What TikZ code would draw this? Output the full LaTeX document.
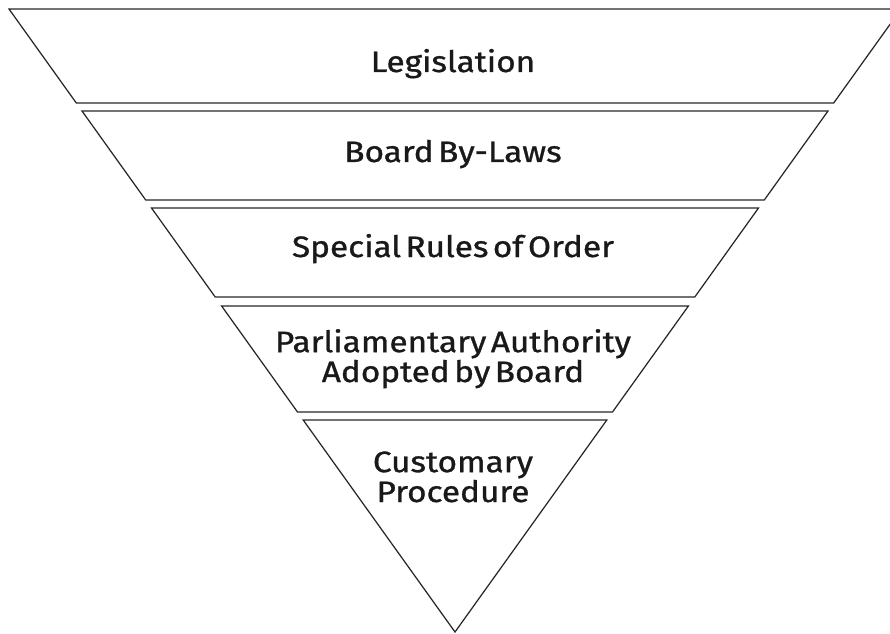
\documentclass[tikz,border=0pt]{standalone}
\usepackage{fontspec}
\setmainfont{Fira Sans}[FakeStretch=1.13, FakeBold=1, WordSpace=0.5]

\begin{document}
\begin{tikzpicture}[band/.style={draw=black!85, line width=0.7pt}, lbl/.style={anchor=base, align=center, text=black!90, font=\fontsize{16.8}{17}\selectfont}]
\useasboundingbox (0,0) rectangle (17.8,12.66);
\clip (0,0) rectangle (17.8,12.66);

\draw[band] (0.18,12.48) -- (18.02,12.48) -- (16.674,10.60) -- (1.526,10.60) -- cycle;
\draw[band] (1.64,10.44) -- (16.56,10.44) -- (15.286,8.66) -- (2.914,8.66) -- cycle;
\draw[band] (3.03,8.50) -- (15.17,8.50) -- (13.896,6.72) -- (4.304,6.72) -- cycle;
\draw[band] (4.432,6.54) -- (13.768,6.54) -- (12.25,4.42) -- (5.95,4.42) -- cycle;
\draw[band] (6.064,4.26) -- (12.136,4.26) -- (9.10,0.02) -- cycle;

\node[lbl] (legis) at (9.06,11.22) {Legislation};
\node[lbl] (bylaws) at (9.06,9.42) {Board By-Laws};
\node[lbl] (rules) at (9.06,7.52) {Special Rules of Order};
\node[lbl] (parl) at (9.06,5.02) {Parliamentary Authority\\Adopted by Board};
\node[lbl] (custom) at (9.06,2.62) {Customary\\Procedure};

\end{tikzpicture}
\end{document}
